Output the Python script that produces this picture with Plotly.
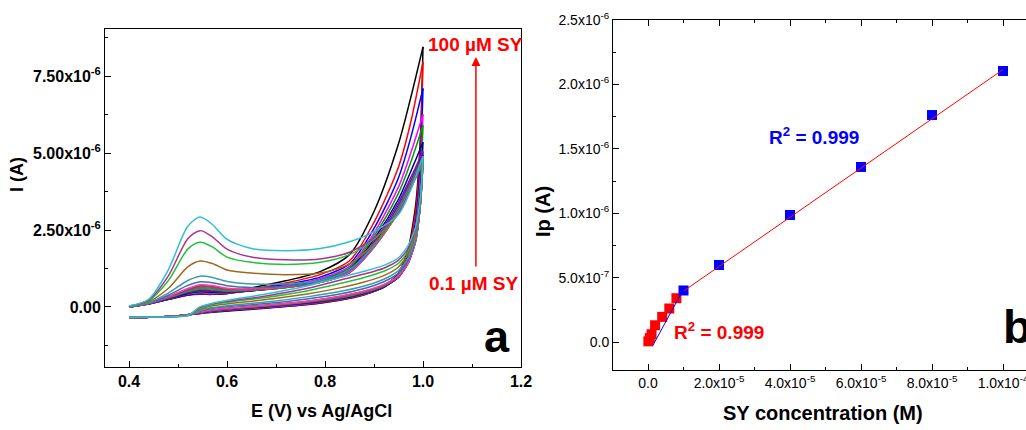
import plotly.graph_objects as go

W, H = 1026, 430
def px(x): return x / W
def py(y): return 1 - y / H

# ---------------- panel a : cyclic voltammograms (current in µA) ----------------
E_FWD = [0.40, 0.44, 0.48, 0.52, 0.545, 0.57, 0.60, 0.65, 0.72, 0.79, 0.85, 0.90, 0.95, 0.975, 1.0]
E_REV = [0.995, 0.985, 0.97, 0.95, 0.92, 0.88, 0.83, 0.76, 0.68, 0.61, 0.57, 0.545, 0.52, 0.48, 0.40]

CV_COLORS = ["#000000", "#FF0000", "#0000FF", "#FF00FF", "#00A000", "#000080", "#8000FF",
             "#800040", "#008080", "#808000", "#3070E0", "#A06000", "#8B2BB0", "#FF40A0",
             "#4868B0", "#3A9AB0", "#9C6A20", "#22C040", "#B0308A", "#30C0D0"]

I_FWD = [
    [0.00, 0.10, 0.24, 0.38, 0.41, 0.41, 0.44, 0.62, 0.85, 1.15, 1.70, 3.10, 5.30, 6.80, 8.45],
    [0.00, 0.10, 0.25, 0.39, 0.42, 0.42, 0.44, 0.58, 0.78, 1.05, 1.50, 2.75, 4.55, 6.00, 7.96],
    [0.00, 0.10, 0.25, 0.40, 0.44, 0.43, 0.44, 0.56, 0.73, 0.97, 1.40, 2.55, 4.20, 5.50, 7.10],
    [0.00, 0.10, 0.26, 0.42, 0.46, 0.44, 0.45, 0.54, 0.69, 0.92, 1.32, 2.40, 3.90, 5.00, 6.25],
    [0.00, 0.10, 0.27, 0.43, 0.48, 0.46, 0.46, 0.53, 0.67, 0.88, 1.27, 2.30, 3.70, 4.70, 5.90],
    [0.00, 0.10, 0.27, 0.44, 0.50, 0.48, 0.47, 0.53, 0.65, 0.85, 1.22, 2.20, 3.50, 4.40, 5.35],
    [0.00, 0.10, 0.28, 0.46, 0.52, 0.50, 0.48, 0.53, 0.64, 0.83, 1.18, 2.12, 3.40, 4.20, 5.05],
    [0.00, 0.10, 0.28, 0.47, 0.54, 0.52, 0.49, 0.53, 0.63, 0.81, 1.15, 2.05, 3.30, 4.10, 4.95],
    [0.00, 0.11, 0.29, 0.49, 0.57, 0.55, 0.51, 0.54, 0.63, 0.80, 1.13, 2.00, 3.25, 4.05, 4.90],
    [0.00, 0.11, 0.30, 0.51, 0.60, 0.58, 0.53, 0.55, 0.63, 0.80, 1.12, 1.98, 3.20, 4.00, 4.85],
    [0.00, 0.11, 0.31, 0.53, 0.63, 0.61, 0.55, 0.56, 0.64, 0.80, 1.12, 1.96, 3.18, 3.98, 4.82],
    [0.00, 0.12, 0.32, 0.55, 0.66, 0.64, 0.57, 0.57, 0.64, 0.80, 1.12, 1.95, 3.15, 3.95, 4.80],
    [0.00, 0.12, 0.33, 0.57, 0.69, 0.67, 0.59, 0.58, 0.65, 0.80, 1.12, 1.94, 3.12, 3.92, 4.78],
    [0.01, 0.12, 0.34, 0.60, 0.72, 0.70, 0.61, 0.59, 0.66, 0.81, 1.13, 1.94, 3.10, 3.90, 4.75],
    [0.01, 0.12, 0.38, 0.70, 0.82, 0.79, 0.69, 0.63, 0.67, 0.82, 1.18, 1.97, 3.10, 3.88, 4.72],
    [0.01, 0.14, 0.45, 0.86, 1.00, 0.96, 0.83, 0.75, 0.75, 0.86, 1.22, 2.00, 3.10, 3.88, 4.70],
    [0.02, 0.17, 0.60, 1.30, 1.49, 1.41, 1.20, 1.10, 1.05, 1.10, 1.40, 2.05, 3.05, 3.85, 4.72],
    [0.02, 0.20, 0.85, 1.88, 2.10, 1.95, 1.62, 1.45, 1.38, 1.45, 1.70, 2.20, 3.05, 3.85, 4.75],
    [0.03, 0.22, 1.00, 2.22, 2.48, 2.28, 1.88, 1.62, 1.53, 1.56, 1.78, 2.25, 3.05, 3.85, 4.80],
    [0.03, 0.25, 1.20, 2.62, 2.92, 2.68, 2.20, 1.90, 1.83, 1.90, 2.12, 2.45, 3.00, 3.80, 4.90],
]

I_REV = [
    [5.60, 3.30, 1.90, 1.10, 0.66, 0.40, 0.22, 0.07, -0.04, -0.12, -0.17, -0.21, -0.26, -0.31, -0.36],
    [5.30, 3.10, 1.80, 1.06, 0.65, 0.40, 0.23, 0.08, -0.03, -0.11, -0.16, -0.21, -0.26, -0.31, -0.36],
    [4.80, 2.80, 1.70, 1.02, 0.64, 0.41, 0.24, 0.09, -0.02, -0.10, -0.15, -0.20, -0.26, -0.31, -0.36],
    [4.30, 2.60, 1.60, 0.99, 0.64, 0.42, 0.25, 0.10, -0.01, -0.09, -0.14, -0.20, -0.26, -0.31, -0.36],
    [4.10, 2.50, 1.55, 0.98, 0.64, 0.43, 0.26, 0.11, 0.00, -0.08, -0.14, -0.19, -0.26, -0.31, -0.35],
    [3.80, 2.35, 1.50, 0.97, 0.65, 0.44, 0.27, 0.12, 0.01, -0.07, -0.13, -0.19, -0.25, -0.31, -0.35],
    [3.60, 2.25, 1.46, 0.97, 0.66, 0.45, 0.28, 0.13, 0.02, -0.07, -0.13, -0.18, -0.25, -0.31, -0.35],
    [3.50, 2.20, 1.44, 0.97, 0.67, 0.46, 0.29, 0.14, 0.03, -0.06, -0.12, -0.18, -0.25, -0.31, -0.35],
    [3.50, 2.20, 1.44, 0.98, 0.68, 0.47, 0.30, 0.15, 0.03, -0.05, -0.12, -0.17, -0.25, -0.31, -0.35],
    [3.40, 2.15, 1.43, 0.98, 0.69, 0.48, 0.31, 0.16, 0.04, -0.05, -0.11, -0.17, -0.25, -0.31, -0.35],
    [3.40, 2.15, 1.43, 0.99, 0.70, 0.49, 0.32, 0.16, 0.05, -0.04, -0.11, -0.17, -0.25, -0.31, -0.35],
    [3.40, 2.15, 1.44, 1.00, 0.71, 0.50, 0.33, 0.17, 0.05, -0.04, -0.10, -0.16, -0.25, -0.31, -0.35],
    [3.40, 2.15, 1.45, 1.01, 0.72, 0.51, 0.34, 0.18, 0.06, -0.03, -0.10, -0.16, -0.25, -0.31, -0.35],
    [3.40, 2.15, 1.46, 1.02, 0.73, 0.52, 0.35, 0.18, 0.06, -0.03, -0.09, -0.16, -0.25, -0.31, -0.35],
    [3.40, 2.20, 1.52, 1.10, 0.82, 0.60, 0.42, 0.25, 0.11, 0.02, -0.05, -0.14, -0.26, -0.31, -0.35],
    [3.40, 2.25, 1.60, 1.18, 0.90, 0.68, 0.50, 0.32, 0.16, 0.06, -0.02, -0.12, -0.27, -0.32, -0.34],
    [3.45, 2.35, 1.72, 1.30, 1.02, 0.81, 0.62, 0.41, 0.24, 0.12, 0.04, -0.08, -0.27, -0.32, -0.34],
    [3.50, 2.45, 1.82, 1.42, 1.16, 0.96, 0.76, 0.51, 0.31, 0.17, 0.08, -0.04, -0.28, -0.32, -0.33],
    [3.55, 2.50, 1.90, 1.52, 1.26, 1.07, 0.87, 0.59, 0.36, 0.20, 0.10, -0.02, -0.28, -0.32, -0.33],
    [3.60, 2.60, 2.00, 1.60, 1.35, 1.16, 0.96, 0.67, 0.42, 0.24, 0.12, 0.01, -0.28, -0.32, -0.33],
]

# ---------------- panel b : calibration ----------------
CONC_LOW = [0.1e-6, 0.5e-6, 1e-6, 2e-6, 4e-6, 6e-6, 8e-6]
IP_LOW_UA = [0.005, 0.03, 0.06, 0.13, 0.195, 0.26, 0.34]
CONC_HIGH = [1e-5, 2e-5, 4e-5, 6e-5, 8e-5, 1e-4]
IP_HIGH_UA = [0.40, 0.598, 0.986, 1.359, 1.762, 2.104]
FIT_LOW_X = [1.4e-6, 9.6e-6]
FIT_LOW_UA = [-0.025, 0.39]
FIT_HIGH_X = [1e-5, 1e-4]
FIT_HIGH_UA = [0.395, 2.115]

A_XTICKS = [0.4, 0.6, 0.8, 1.0, 1.2]
A_YTICKS = [0.0, 2.5e-6, 5.0e-6, 7.5e-6]
A_YLABELS = ["0.00", "2.50x10<sup>-6</sup>", "5.00x10<sup>-6</sup>", "7.50x10<sup>-6</sup>"]
B_XTICKS = [0.0, 2e-5, 4e-5, 6e-5, 8e-5, 1e-4]
B_XLABELS = ["0.0", "2.0x10<sup>-5</sup>", "4.0x10<sup>-5</sup>", "6.0x10<sup>-5</sup>",
             "8.0x10<sup>-5</sup>", "1.0x10<sup>-4</sup>"]
B_YTICKS = [0.0, 0.5e-6, 1.0e-6, 1.5e-6, 2.0e-6, 2.5e-6]
B_YLABELS = ["0.0", "5.0x10<sup>-7</sup>", "1.0x10<sup>-6</sup>", "1.5x10<sup>-6</sup>",
             "2.0x10<sup>-6</sup>", "2.5x10<sup>-6</sup>"]

FONT = "Arial, Liberation Sans, Helvetica, sans-serif"
fig = go.Figure()

for col, fw, rv in zip(CV_COLORS, I_FWD, I_REV):
    fig.add_trace(go.Scatter(x=E_FWD, y=[v * 1e-6 for v in fw], mode="lines",
                             line=dict(color=col, width=1.5, shape="spline", smoothing=0.8),
                             xaxis="x", yaxis="y", showlegend=False, hoverinfo="skip"))
    fig.add_trace(go.Scatter(x=[E_FWD[-1]] + E_REV, y=[fw[-1] * 1e-6] + [v * 1e-6 for v in rv],
                             mode="lines",
                             line=dict(color=col, width=1.5, shape="spline", smoothing=0.6),
                             xaxis="x", yaxis="y", showlegend=False, hoverinfo="skip"))

fig.add_trace(go.Scatter(x=CONC_LOW, y=[v * 1e-6 for v in IP_LOW_UA], mode="markers",
                         marker=dict(symbol="square", size=10, color="#FF0000"),
                         xaxis="x2", yaxis="y2", showlegend=False))
fig.add_trace(go.Scatter(x=CONC_HIGH, y=[v * 1e-6 for v in IP_HIGH_UA], mode="markers",
                         marker=dict(symbol="square", size=10, color="#0000FF"),
                         xaxis="x2", yaxis="y2", showlegend=False))
fig.add_trace(go.Scatter(x=FIT_LOW_X, y=[v * 1e-6 for v in FIT_LOW_UA], mode="lines",
                         line=dict(color="#0000FF", width=1),
                         xaxis="x2", yaxis="y2", showlegend=False))
fig.add_trace(go.Scatter(x=FIT_HIGH_X, y=[v * 1e-6 for v in FIT_HIGH_UA], mode="lines",
                         line=dict(color="#FF0000", width=1),
                         xaxis="x2", yaxis="y2", showlegend=False))

axis_common = dict(showgrid=False, zeroline=False, showline=True, linecolor="black",
                   linewidth=1, ticks="inside", ticklen=6, tickcolor="black", tickwidth=1,
                   automargin=False, ticklabeloverflow="allow")

fig.update_layout(
    width=W, height=H, margin=dict(l=0, r=0, t=0, b=0, autoexpand=False),
    paper_bgcolor="white", plot_bgcolor="white",
    font=dict(family=FONT, color="black"),
    xaxis=dict(domain=[px(105), px(521)], range=[0.351, 1.2], tickvals=A_XTICKS,
               ticktext=[f"{v:.1f}" for v in A_XTICKS], mirror=True,
               tickfont=dict(size=16, weight="bold"),
               minor=dict(tickvals=[0.5, 0.7, 0.9, 1.1], ticks="inside", ticklen=3,
                          tickcolor="black"),
               anchor="y", **axis_common),
    yaxis=dict(domain=[py(367), py(29)], range=[-1.95e-6, 9.03e-6], tickvals=A_YTICKS,
               ticktext=A_YLABELS, mirror=True,
               tickfont=dict(size=16, weight="bold"),
               minor=dict(tickvals=[-1.25e-6, 1.25e-6, 3.75e-6, 6.25e-6, 8.75e-6],
                          ticks="inside", ticklen=3, tickcolor="black"),
               anchor="x", **axis_common),
    xaxis2=dict(domain=[px(613), 1.0], range=[-0.986e-5, 1.0648e-4], tickvals=B_XTICKS,
                ticktext=B_XLABELS, mirror="ticks",
                tickfont=dict(size=14),
                minor=dict(tickvals=[1e-5, 3e-5, 5e-5, 7e-5, 9e-5], ticks="inside",
                           ticklen=3, tickcolor="black"),
                anchor="y2", **axis_common),
    yaxis2=dict(domain=[py(370), py(20)], range=[-0.2174e-6, 2.5e-6], tickvals=B_YTICKS,
                ticktext=B_YLABELS, mirror=False,
                tickfont=dict(size=14),
                minor=dict(tickvals=[0.25e-6, 0.75e-6, 1.25e-6, 1.75e-6, 2.25e-6],
                           ticks="inside", ticklen=3, tickcolor="black"),
                anchor="x2", **axis_common),
)

def txt(x, y, text, size, color="black", angle=0, xanchor="center", yanchor="middle"):
    fig.add_annotation(x=px(x), y=py(y), xref="paper", yref="paper", text=text,
                       showarrow=False, textangle=angle, xanchor=xanchor, yanchor=yanchor,
                       font=dict(family=FONT, size=size, color=color, weight="bold"))

# axis titles
txt(321, 411, "E (V) vs Ag/AgCl", 18)
txt(17, 175, "I (A)", 18, angle=-90)
txt(823, 413, "SY concentration (M)", 20)
txt(543, 212, "Ip (A)", 20, angle=-90)

# panel a labels
txt(475, 44, "100 µM SY", 19, color="#FF0000")
txt(473, 283, "0.1 µM SY", 19, color="#FF0000")
fig.add_annotation(x=1.108, y=8.12e-6, ax=1.108, ay=1.27e-6, xref="x", yref="y",
                   axref="x", ayref="y", text="", showarrow=True, arrowhead=2,
                   arrowsize=1.2, arrowwidth=1.5, arrowcolor="#FF0000")
txt(497, 336, "a", 45)

# panel b labels
txt(814, 136, "R<sup>2</sup> = 0.999", 19, color="#0000FF")
txt(719, 331, "R<sup>2</sup> = 0.999", 19, color="#FF0000")
txt(1001, 326, "b", 47, xanchor="left")

fig.write_html("out.html")
